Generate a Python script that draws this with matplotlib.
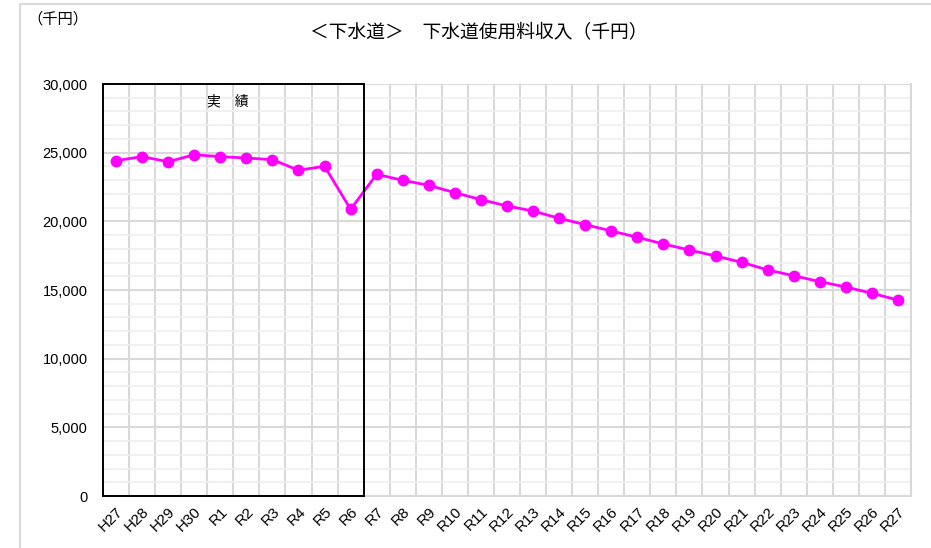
import matplotlib
matplotlib.use("Agg")
import matplotlib.pyplot as plt
from matplotlib.patches import Rectangle
from matplotlib.lines import Line2D
from matplotlib.ticker import MultipleLocator, FuncFormatter

plt.rcParams["font.family"] = ["Noto Sans CJK JP", "DejaVu Sans"]

years = ["H27", "H28", "H29", "H30"] + ["R%d" % i for i in range(1, 28)]
revenue = [24420, 24710, 24340, 24850, 24710, 24610, 24490, 23720, 24010, 20880,
           23420, 22990, 22620, 22090, 21580, 21120, 20750, 20220, 19760, 19300,
           18840, 18350, 17910, 17480, 17020, 16460, 16040, 15610, 15220, 14760,
           14270]
actual_count = 10  # H27..R6 are actual results

fig = plt.figure(figsize=(9.31, 5.48), dpi=100)
ax = fig.add_axes([103 / 931, 52 / 548, 808 / 931, 412 / 548])

x = list(range(len(years)))
ax.plot(x, revenue, "-o", color="#FF00FF", linewidth=2.0, markersize=7.5, zorder=5)

ax.set_xlim(-0.5, len(years) - 0.5)
ax.set_ylim(0, 30000)

# grid: major every 5000, minor every 1000, vertical lines between categories
ax.yaxis.set_major_locator(MultipleLocator(5000))
ax.yaxis.set_minor_locator(MultipleLocator(1000))
ax.set_xticks(x)
ax.set_xticks([i - 0.5 for i in range(len(years) + 1)], minor=True)
ax.grid(which="major", axis="y", color="#d9d9d9", linewidth=1.5)
ax.grid(which="minor", axis="y", color="#efefef", linewidth=1.2)
ax.grid(which="minor", axis="x", color="#d9d9d9", linewidth=1.5)
ax.set_axisbelow(True)
ax.yaxis.set_major_formatter(FuncFormatter(lambda v, p: f"{int(v):,}"))

ax.set_xticklabels(years, rotation=45, ha="right", rotation_mode="anchor",
                   family="Liberation Sans", fontsize=11)
for lab in ax.get_yticklabels():
    lab.set_family("Liberation Sans")
    lab.set_fontsize(10.5)
ax.tick_params(axis="both", which="both", length=0)
ax.tick_params(axis="y", pad=11)
ax.tick_params(axis="x", pad=6)

for side in ["top", "left"]:
    ax.spines[side].set_visible(False)
for side in ["right", "bottom"]:
    ax.spines[side].set_color("#d9d9d9")
    ax.spines[side].set_linewidth(1.5)

# box around actual results
ax.add_patch(Rectangle((-0.5, 0), actual_count, 30000, fill=False,
                       edgecolor="black", linewidth=1.4, zorder=6, clip_on=False))
ax.text(4.3, 28700, "実　績", ha="center", va="center", fontsize=10)

fig.text(479 / 931, 1 - 33 / 548, "＜下水道＞　下水道使用料収入（千円）",
         ha="center", va="center", fontsize=13.5)
fig.text(58 / 931, 1 - 19 / 548, "（千円）", ha="center", va="center", fontsize=11)

# outer chart frame
fig.add_artist(Line2D([20 / 931, 1], [1 - 4 / 548, 1 - 4 / 548], color="#d9d9d9", linewidth=1.5))
fig.add_artist(Line2D([20 / 931, 20 / 931], [0, 1 - 4 / 548], color="#d9d9d9", linewidth=1.5))

fig.savefig("out.png", dpi=100)
